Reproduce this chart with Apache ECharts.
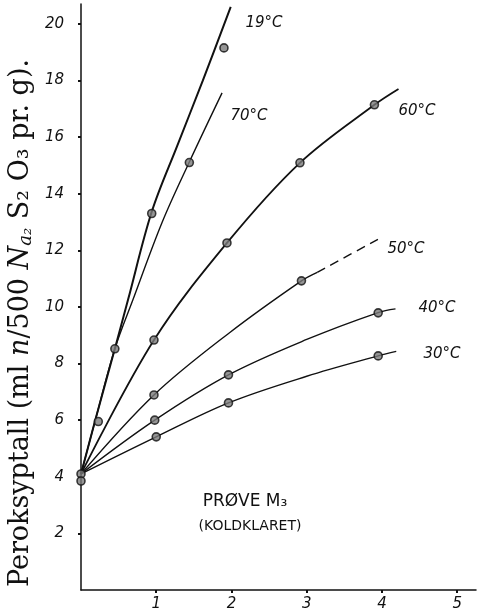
<!DOCTYPE html>
<html>
<head>
<meta charset="utf-8">
<script src="https://cdn.jsdelivr.net/npm/echarts@6/dist/echarts.min.js"></script>
<style>
  html, body { margin: 0; padding: 0; background: #fff; }
  #chart { width: 481px; height: 612px; }
</style>
</head>
<body>
<div id="chart"></div>
<script>
// Axis ticks
const xTicks = [1, 2, 3, 4, 5];
const yTicks = [2, 4, 6, 8, 10, 12, 14, 16, 18, 20];

// Starting value (two determinations at time 0)
const start = [[0, 4.1], [0, 3.85]];

// Measured peroxide values [time, value] per storage temperature
const p19 = [[0.94, 13.3], [1.90, 19.15]];
const p70 = [[0.23, 5.95], [0.45, 8.52], [1.44, 15.1]];
const p60 = [[0.97, 8.83], [1.94, 12.26], [2.91, 15.09], [3.90, 17.14]];
const p50 = [[0.97, 6.89], [2.93, 10.92]];
const p40 = [[0.98, 6.0], [1.96, 7.6], [3.95, 9.79]];
const p30 = [[1.0, 5.41], [1.96, 6.61], [3.95, 8.27]];

// Hand-fitted curves through the measurements
const c19 = [[0, 4.1], [0.2, 6.1], [0.45, 8.52], [0.625, 10.25], [0.94, 13.36], [1.28, 15.7], [1.62, 18.0], [1.99, 20.6]];
const c70 = [[0, 4.1], [0.2, 6.1], [0.45, 8.52], [0.69, 10.25], [1.08, 13.0], [1.44, 15.12], [1.875, 17.56]];
const c60 = [[0, 4.1], [0.97, 8.83], [1.94, 12.26], [2.91, 15.09], [3.90, 17.14], [4.22, 17.7]];
const c50 = [[0, 4.1], [0.97, 6.89], [1.97, 9.08], [2.93, 10.92], [3.14, 11.22]];
const c50ext = [[3.14, 11.22], [3.99, 12.45]];
const c40 = [[0, 4.1], [0.98, 6.0], [1.96, 7.6], [3.0, 8.85], [3.95, 9.8], [4.18, 9.93]];
const c30 = [[0, 4.1], [1.0, 5.41], [1.96, 6.61], [3.0, 7.55], [3.95, 8.27], [4.19, 8.43]];

const hand = 'DejaVu Sans, sans-serif';
const ink = '#111';

function curve(data, width, dashed) {
  return {
    type: 'line', data: data, smooth: 0.35, showSymbol: false, symbol: 'none',
    lineStyle: { color: ink, width: width, type: dashed ? [9, 6] : 'solid' },
    silent: true, z: 2
  };
}
function marks(data) {
  return {
    type: 'scatter', data: data, symbol: 'circle', symbolSize: 8,
    itemStyle: { color: '#7a7a7a', borderColor: ink, borderWidth: 1.6 },
    silent: true, z: 3
  };
}
function note(text, x, y, size) {
  return {
    type: 'text', x: x, y: y,
    style: { text: text, font: 'italic ' + (size || 15) + 'px ' + hand, fill: ink, align: 'center', verticalAlign: 'middle' }
  };
}

const chart = echarts.init(document.getElementById('chart'), null, { renderer: 'canvas' });
chart.setOption({
  animation: false,
  backgroundColor: '#fff',
  grid: { left: 81, right: 5, top: 4, bottom: 22 },
  xAxis: {
    type: 'value', min: 0, max: 5.25, interval: 1,
    axisLine: { lineStyle: { color: ink, width: 1.5 } },
    axisTick: { show: true, customValues: xTicks, length: 3, lineStyle: { color: ink, width: 2 } },
    axisLabel: {
      customValues: xTicks, color: ink, fontFamily: hand, fontStyle: 'italic', fontSize: 15, margin: 7,
      formatter: v => (xTicks.indexOf(v) >= 0 ? String(v) : '')
    },
    splitLine: { show: false }
  },
  yAxis: {
    type: 'value', min: 0, max: 20.7, interval: 2,
    axisLine: { lineStyle: { color: ink, width: 1.5 } },
    axisTick: { show: true, customValues: yTicks, length: 3, lineStyle: { color: ink, width: 2 } },
    axisLabel: {
      customValues: yTicks, color: ink, fontFamily: hand, fontStyle: 'italic', fontSize: 15, margin: 17,
      formatter: v => (yTicks.indexOf(v) >= 0 ? String(v) : '')
    },
    splitLine: { show: false }
  },
  series: [
    curve(c19, 2), curve(c70, 1.4), curve(c60, 1.8), curve(c50, 1.4), curve(c50ext, 1.4, true),
    curve(c40, 1.4), curve(c30, 1.4),
    marks(start), marks(p19), marks(p70), marks(p60), marks(p50), marks(p40), marks(p30)
  ],
  graphic: [
    {
      type: 'text', x: 21, y: 323, rotation: Math.PI / 2,
      style: {
        text: '{r|Peroksyptall (ml }{i|n}{r|/500 }{i|N}{s|a₂}{r| S₂ O₃ pr. g).}',
        align: 'center', verticalAlign: 'middle', fill: ink,
        rich: {
          r: { fontFamily: 'DejaVu Serif, serif', fontSize: 27, fill: ink },
          i: { fontFamily: 'DejaVu Serif, serif', fontSize: 27, fontStyle: 'italic', fill: ink },
          s: { fontFamily: 'DejaVu Serif, serif', fontSize: 18, fontStyle: 'italic', fill: ink, padding: [10, 0, 0, 0] }
        }
      }
    },
    note('19°C', 264, 23),
    note('70°C', 249, 116),
    note('60°C', 417, 111),
    note('50°C', 406, 249),
    note('40°C', 437, 308),
    note('30°C', 442, 354),
    { type: 'text', x: 245, y: 502, style: { text: 'PRØVE M₃', font: '17px ' + hand, fill: ink, align: 'center', verticalAlign: 'middle' } },
    { type: 'text', x: 250, y: 526, style: { text: '(KOLDKLARET)', font: '14px ' + hand, fill: ink, align: 'center', verticalAlign: 'middle' } }
  ]
});
</script>
</body>
</html>
